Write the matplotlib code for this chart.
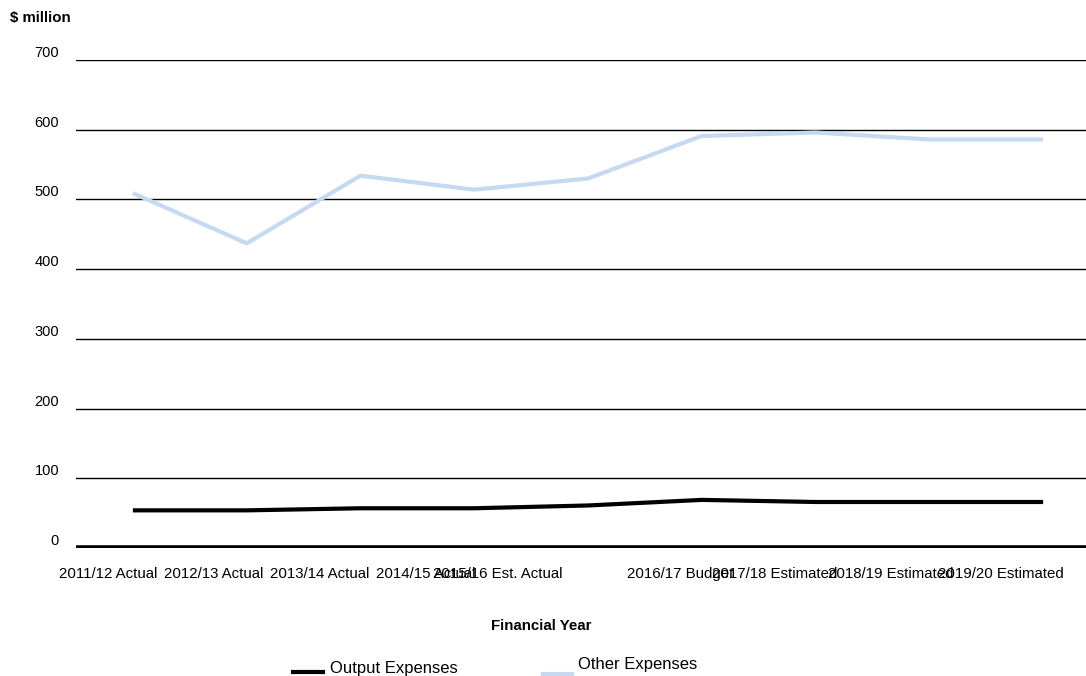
import matplotlib
matplotlib.use("Agg")
import matplotlib.pyplot as plt
from matplotlib.lines import Line2D
from matplotlib.transforms import ScaledTranslation

plt.rcParams['font.family'] = ['Liberation Sans', 'DejaVu Sans']

categories = ["2011/12 Actual", "2012/13 Actual", "2013/14 Actual", "2014/15 Actual",
              "2015/16 Est. Actual", "2016/17 Budget", "2017/18 Estimated",
              "2018/19 Estimated", "2019/20 Estimated"]
output_expenses = [54, 54, 57, 57, 61, 69, 66, 66, 66]
other_expenses = [509, 437, 534, 514, 530, 591, 596, 586, 586]
y_ticks = [0, 100, 200, 300, 400, 500, 600, 700]
# horizontal shift (pixels) of each category label, as laid out in the original
label_shift_px = [-25, -33, -41, -48, -90, -22, -41, -39, -42]

W, H = 1086, 676
fig = plt.figure(figsize=(W / 100, H / 100), dpi=100)
left_px, right_px, top_px, bottom_px = 76, 1100, 60, 548
ax = fig.add_axes([left_px / W, 1 - bottom_px / H, (right_px - left_px) / W, (bottom_px - top_px) / H])

x = list(range(len(categories)))
ax.plot(x, other_expenses, color="#C6D9F1", lw=3, solid_capstyle="butt", zorder=3)
ax.plot(x, output_expenses, color="black", lw=3, solid_capstyle="butt", zorder=3)

ax.set_xlim(-0.5, len(categories) - 0.5)
ax.set_ylim(0, 700)
for t in y_ticks[1:]:
    ax.axhline(t, color="black", lw=1, zorder=1)
ax.axhline(0, color="black", lw=4, zorder=2)

for s in ax.spines.values():
    s.set_visible(False)

ax.set_yticks([])
ax.set_xticks(x)
ax.set_xticklabels(categories, fontsize=10.8)
ax.tick_params(axis="x", length=0, pad=14)
for lab, dx in zip(ax.get_xticklabels(), label_shift_px):
    lab.set_transform(lab.get_transform() + ScaledTranslation(dx / 100, 0, fig.dpi_scale_trans))

for t in y_ticks:
    ax.annotate(str(t), xy=(0, t), xycoords=("axes fraction", "data"),
                xytext=(-17, 7), textcoords="offset pixels",
                ha="right", va="center", fontsize=10.5)

fig.text(10 / W, 1 - 18 / H, "$ million", fontsize=10.8, fontweight="bold", ha="left", va="center")
fig.text(541 / W, 1 - 626 / H, "Financial Year", fontsize=10.8, fontweight="bold", ha="center", va="center")

# legend
fig.add_artist(Line2D([293 / W, 323 / W], [1 - 672 / H, 1 - 672 / H], color="black", lw=3))
fig.text(330 / W, 1 - 669 / H, "Output Expenses", fontsize=12, ha="left", va="center")
fig.add_artist(Line2D([543 / W, 572 / W], [1 - 674 / H, 1 - 674 / H], color="#C6D9F1", lw=3))
fig.text(578 / W, 1 - 665 / H, "Other Expenses", fontsize=12, ha="left", va="center")

fig.savefig("out.png", dpi=100)
